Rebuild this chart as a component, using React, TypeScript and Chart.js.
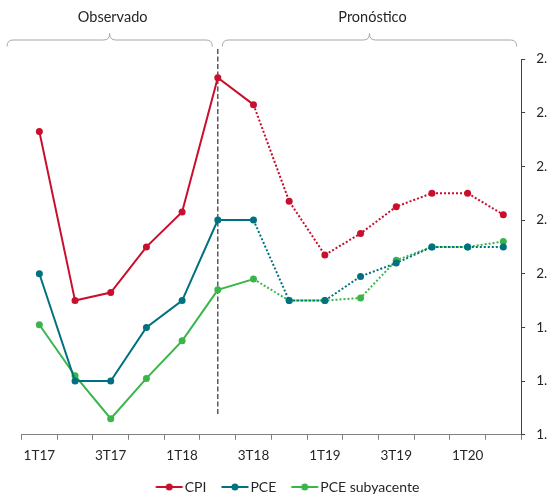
import React, { useEffect, useRef } from 'react';
import { Chart, registerables } from 'chart.js';

Chart.register(...registerables);

const categories = ['1T17', '2T17', '3T17', '4T17', '1T18', '2T18', '3T18', '4T18', '1T19', '2T19', '3T19', '4T19', '1T20', '2T20'];
const cpi = [2.53, 1.9, 1.93, 2.1, 2.23, 2.73, 2.63, 2.27, 2.07, 2.15, 2.25, 2.3, 2.3, 2.22];
const pce = [2.0, 1.6, 1.6, 1.8, 1.9, 2.2, 2.2, 1.9, 1.9, 1.99, 2.04, 2.1, 2.1, 2.1];
const pceCore = [1.81, 1.62, 1.46, 1.61, 1.75, 1.94, 1.98, 1.9, 1.9, 1.91, 2.05, 2.1, 2.1, 2.12];
const seriesNames = ['CPI', 'PCE', 'PCE subyacente'];
const seriesColors = ['#C8102E', '#00727F', '#3AB54A'];
const yMin = 1.4;
const yMax = 2.8;
const yStep = 0.2;
const lastObservedIndex = 6;
const dividerIndex = 5;
const periodLabels = ['Observado', 'Pronóstico'];

const FONT = 'Lato';
const TEXT = '#262626';

function makeIcon(color: string): HTMLCanvasElement {
  const c = document.createElement('canvas');
  c.width = 40;
  c.height = 10;
  const g = c.getContext('2d')!;
  g.strokeStyle = color;
  g.lineWidth = 2;
  g.beginPath();
  g.moveTo(11.5, 5);
  g.lineTo(38.5, 5);
  g.stroke();
  g.fillStyle = color;
  g.beginPath();
  g.arc(25, 5, 3.5, 0, Math.PI * 2);
  g.fill();
  return c;
}

function drawBrace(ctx: CanvasRenderingContext2D, x0: number, x1: number, y: number) {
  const mid = (x0 + x1) / 2;
  const r = 6;
  const h = 6.5;
  ctx.beginPath();
  ctx.moveTo(x0, y + h);
  ctx.quadraticCurveTo(x0, y, x0 + r, y);
  ctx.lineTo(mid - r, y);
  ctx.quadraticCurveTo(mid, y, mid, y - h);
  ctx.quadraticCurveTo(mid, y, mid + r, y);
  ctx.lineTo(x1 - r, y);
  ctx.quadraticCurveTo(x1, y, x1, y + h);
  ctx.stroke();
}

const periodsPlugin = {
  id: 'periods',
  beforeDatasetsDraw(chart: any) {
    const { ctx, chartArea, scales } = chart;
    const xd = scales.x.getPixelForValue(dividerIndex);
    ctx.save();
    ctx.strokeStyle = '#404040';
    ctx.lineWidth = 1.3;
    ctx.setLineDash([5, 2.5]);
    ctx.beginPath();
    ctx.moveTo(xd, chartArea.top - 10);
    ctx.lineTo(xd, chartArea.bottom - 19);
    ctx.stroke();
    ctx.restore();
  },
  afterDraw(chart: any) {
    const { ctx, chartArea, scales } = chart;
    const xd = scales.x.getPixelForValue(dividerIndex);
    const yb = chartArea.top - 19;
    const spans: [number, number][] = [
      [chartArea.left - 14.5, xd - 5.5],
      [xd + 4.5, chartArea.right - 4.5],
    ];
    ctx.save();
    ctx.strokeStyle = '#A6A6A6';
    ctx.lineWidth = 1;
    ctx.fillStyle = TEXT;
    ctx.font = `14.5px ${FONT}`;
    ctx.textAlign = 'center';
    ctx.textBaseline = 'middle';
    spans.forEach(([a, b], i) => {
      drawBrace(ctx, a, b, yb);
      ctx.fillText(periodLabels[i], (a + b) / 2 + 3, chartArea.top - 41.5);
    });
    ctx.restore();
  },
};

export default function App() {
  const ref = useRef<HTMLCanvasElement>(null);

  useEffect(() => {
    if (!ref.current) return;
    const values = [cpi, pce, pceCore];
    const icons = seriesColors.map(makeIcon);
    const chart = new Chart(ref.current, {
      type: 'line',
      data: {
        labels: categories,
        datasets: values.map((v, i) => ({
          label: seriesNames[i],
          data: v,
          borderColor: seriesColors[i],
          backgroundColor: seriesColors[i],
          borderWidth: 2,
          pointRadius: 3.5,
          pointBorderWidth: 0,
          pointBackgroundColor: seriesColors[i],
          tension: 0,
          fill: false,
          segment: {
            borderDash: (c: any) => (c.p0DataIndex >= lastObservedIndex ? [2, 2] : undefined),
          },
        })),
      },
      options: {
        responsive: false,
        animation: false,
        events: [],
        layout: { padding: { left: 4, top: 59, right: 0, bottom: 0 } },
        scales: {
          x: {
            offset: true,
            grid: { offset: true, drawOnChartArea: false, drawTicks: true, tickLength: 5, color: '#808080' },
            border: { color: '#808080', width: 1 },
            ticks: {
              autoSkip: false,
              maxRotation: 0,
              padding: 8,
              color: TEXT,
              font: { family: FONT, size: 13.5 },
              callback: (_v: any, i: number) => (i % 2 === 0 ? categories[i] : ''),
            },
            afterFit: (s: any) => {
              s.height -= 2;
            },
          },
          y: {
            position: 'right',
            min: yMin,
            max: yMax,
            grid: { drawOnChartArea: false, tickLength: 4, color: '#404040' },
            border: { color: '#404040', width: 1 },
            ticks: {
              stepSize: yStep,
              padding: 11,
              color: TEXT,
              font: { family: FONT, size: 13.5 },
              callback: (v: any) => Number(v).toFixed(1),
            },
          },
          leftGap: {
            type: 'linear',
            position: 'left',
            display: true,
            grid: { display: false, drawTicks: false },
            border: { display: false },
            ticks: { display: false },
            afterFit: (s: any) => {
              s.width = 17.5;
            },
          },
        },
        plugins: {
          tooltip: { enabled: false },
          legend: {
            position: 'bottom',
            labels: {
              usePointStyle: true,
              pointStyleWidth: 27,
              padding: 10,
              color: TEXT,
              font: { family: FONT, size: 14 },
              generateLabels: (ch: any) =>
                ch.data.datasets.map((ds: any, i: number) => ({
                  text: ds.label,
                  pointStyle: icons[i],
                  fillStyle: seriesColors[i],
                  strokeStyle: seriesColors[i],
                  lineWidth: 0,
                  hidden: false,
                  datasetIndex: i,
                  fontColor: TEXT,
                })),
            },
          },
        },
      } as any,
      plugins: [periodsPlugin],
    });
    return () => chart.destroy();
  }, []);

  return (
    <div style={{ position: 'absolute', left: 0, top: 0, width: 547, height: 496, overflow: 'hidden', background: '#fff' }}>
      <canvas ref={ref} width={566} height={504} style={{ display: 'block', width: 566, height: 504 }} />
    </div>
  );
}
